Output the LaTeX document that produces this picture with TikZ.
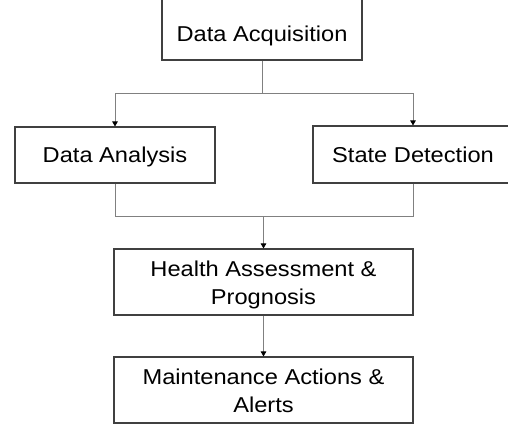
\documentclass[tikz,border=0pt]{standalone}
\usepackage{fontspec}
\setmainfont{Liberation Sans}[FakeStretch=1.1]
\usetikzlibrary{arrows.meta}
\begin{document}
\begin{tikzpicture}[x=1pt,y=-1pt,
  box/.style={draw=black!75, line width=1.1pt, fill=white, inner sep=0pt, align=center,
    font=\fontsize{21.5}{28}\selectfont, text height=15.4pt, text depth=0pt},
  box2/.style={box, text height=45pt},
  txt/.style={inner sep=0pt, font=\fontsize{21.5}{28}\selectfont},
  conn/.style={draw=black!50, line width=0.9pt},
  arr/.style={conn, -{Triangle[length=5pt,width=5.5pt,fill=black,color=black]}}]
\useasboundingbox (0,0) rectangle (508,426);
\clip (0,0) rectangle (508,426);
% boxes
\node[box, minimum width=200pt, minimum height=70pt] (acq) at (262,25) {};
\node[txt, anchor=base] (acqt) at (262,41) {Data Acquisition};
\node[box, minimum width=200pt, minimum height=56pt] (ana) at (115,155) {Data Analysis};
\node[box, minimum width=200pt, minimum height=57pt] (sd) at (413,154.5) {State Detection};
\node[box2, minimum width=299pt, minimum height=66pt] (hea) at (263.5,282) {Health Assessment \&\\Prognosis};
\node[box2, minimum width=299pt, minimum height=66pt] (mai) at (263.5,390) {Maintenance Actions \&\\Alerts};
% connectors
\coordinate (j1) at (acq.south |- 0,93);
\draw[conn] (acq.south) -- (j1);
\draw[arr] (j1) -| (ana.north);
\draw[arr] (j1) -| (sd.north);
\coordinate (j2) at (hea.north |- 0,216);
\draw[conn] (ana.south) |- (j2);
\draw[conn] (sd.south) |- (j2);
\draw[arr] (j2) -- (hea.north);
\draw[arr] (hea.south) -- (mai.north);
\end{tikzpicture}
\end{document}
